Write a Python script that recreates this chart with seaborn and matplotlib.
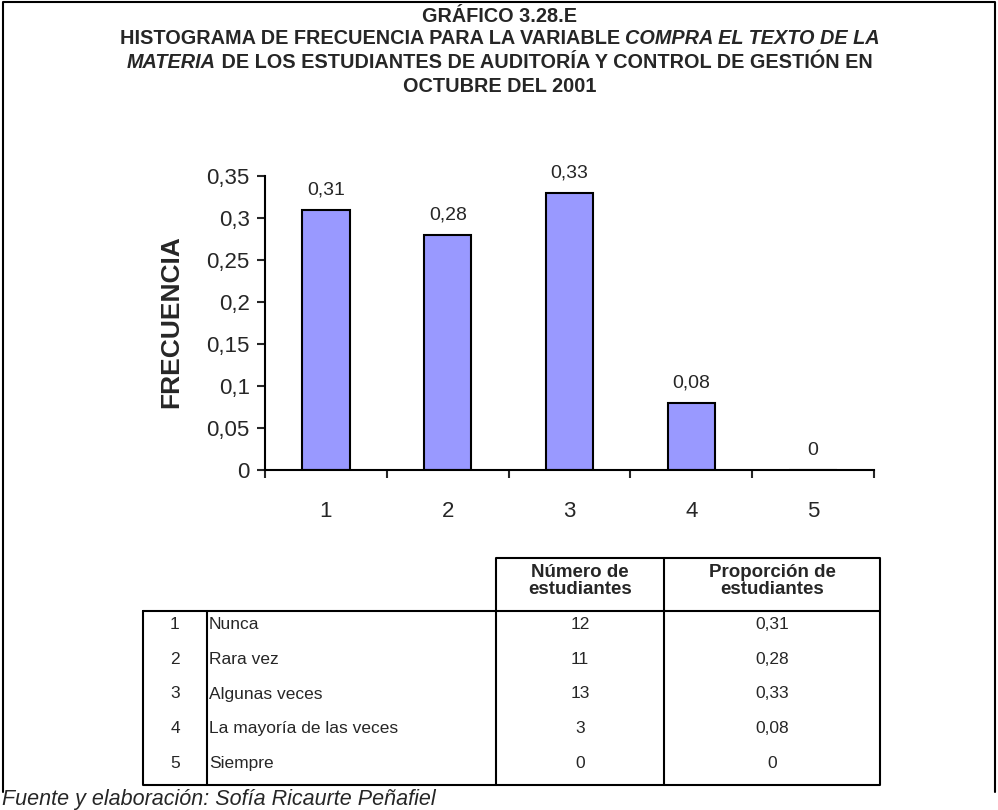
import matplotlib
matplotlib.use("Agg")
import matplotlib.pyplot as plt
import seaborn as sns
import pandas as pd

categorias = ["1", "2", "3", "4", "5"]
respuestas = ["Nunca", "Rara vez", "Algunas veces", "La mayoría de las veces", "Siempre"]
num_estudiantes = [12, 11, 13, 3, 0]
proporcion = [0.31, 0.28, 0.33, 0.08, 0.0]
proporcion_txt = ["0,31", "0,28", "0,33", "0,08", "0"]
yticks = [0, 0.05, 0.1, 0.15, 0.2, 0.25, 0.3, 0.35]
ytick_txt = ["0", "0,05", "0,1", "0,15", "0,2", "0,25", "0,3", "0,35"]

titulo_1 = "GRÁFICO 3.28.E"
titulo_2 = [("HISTOGRAMA DE FRECUENCIA PARA LA VARIABLE ", "normal"), ("COMPRA EL TEXTO DE LA", "italic")]
titulo_3 = [("MATERIA", "italic"), (" DE LOS ESTUDIANTES DE AUDITORÍA Y CONTROL DE GESTIÓN EN", "normal")]
titulo_4 = "OCTUBRE DEL 2001"
fuente = "Fuente y elaboración: Sofía Ricaurte Peñafiel"

sns.set_style("white")
plt.rcParams["font.family"] = ["Liberation Sans", "DejaVu Sans"]

df = pd.DataFrame({"cat": categorias, "prop": proporcion})

fig = plt.figure(figsize=(9.98, 8.10), dpi=100)

# overlay in pixel coords for frame, title and table
ov = fig.add_axes([0, 0, 1, 1])
ov.set_xlim(0, 998)
ov.set_ylim(810, 0)
ov.axis("off")

ax = fig.add_axes([265 / 998, 1 - 470 / 810, 609 / 998, 294 / 810])
sns.barplot(data=df, x="cat", y="prop", color="#9999FF", saturation=1,
            edgecolor="black", linewidth=1.5, width=0.39, ax=ax)
ax.set_xlim(-0.5, 4.5)
ax.set_ylim(0, 0.35)
ax.set_xlabel("")
ax.set_ylabel("")
for s in ["top", "right"]:
    ax.spines[s].set_visible(False)
for s in ["left", "bottom"]:
    ax.spines[s].set_color("black")
    ax.spines[s].set_linewidth(1.5)

ax.set_yticks(yticks)
ax.set_yticklabels(ytick_txt, fontsize=16)
ax.tick_params(axis="y", direction="out", length=6, width=1.5, pad=5, left=True)
ax.set_xticks([i - 0.5 for i in range(6)])
ax.set_xticklabels([""] * 6)
ax.tick_params(axis="x", which="major", direction="out", length=6, width=1.5, bottom=True)
ax.set_xticks(range(5), minor=True)
ax.set_xticklabels(categorias, minor=True, fontsize=16)
ax.tick_params(axis="x", which="minor", length=0, pad=22)

ax.bar_label(ax.containers[0], labels=proporcion_txt, padding=8, fontsize=14)

ov.text(171, 322, "FRECUENCIA", rotation=90, fontsize=19, fontweight="heavy",
        ha="center", va="center")

# frame
ov.plot([3, 3, 995, 995], [792, 2, 2, 792], color="black", lw=1.5, clip_on=False)

# title
fig.canvas.draw()
r = fig.canvas.get_renderer()


def linea(partes, y, size=14.3):
    objs = []
    for txt, st in partes:
        t = ov.text(0, y, txt, fontsize=size, fontweight="bold", style=st,
                    ha="left", va="center")
        objs.append(t)
    ws = [t.get_window_extent(renderer=r).width for t in objs]
    x = 500 - sum(ws) / 2
    for t, w in zip(objs, ws):
        t.set_x(x)
        x += w


linea([(titulo_1, "normal")], 16)
linea(titulo_2, 38)
linea(titulo_3, 62)
linea([(titulo_4, "normal")], 86)

# table
xs = [143, 207, 496, 664, 880]
top_h, top_b, bot = 558, 611, 785
lw = 1.5
ov.plot([xs[2], xs[2], xs[4], xs[4]], [top_b, top_h, top_h, top_b], color="black", lw=lw)
ov.plot([xs[3], xs[3]], [top_h, top_b], color="black", lw=lw)
ov.plot([xs[0], xs[4], xs[4], xs[0], xs[0]], [top_b, top_b, bot, bot, top_b], color="black", lw=lw)
for x in xs[1:4]:
    ov.plot([x, x], [top_b, bot], color="black", lw=lw)

ov.text((xs[2] + xs[3]) / 2, 581, "Número de\nestudiantes", fontsize=13.5, fontweight="bold",
        ha="center", va="center", linespacing=1.0)
ov.text((xs[3] + xs[4]) / 2, 581, "Proporción de\nestudiantes", fontsize=13.5, fontweight="bold",
        ha="center", va="center", linespacing=1.0)

fila_h = (bot - top_b) / 5
for i in range(5):
    y = top_b + fila_h * (i + 0.5) - 4
    ov.text((xs[0] + xs[1]) / 2, y, categorias[i], fontsize=12.5, ha="center", va="center")
    ov.text(xs[1] + 2, y, respuestas[i], fontsize=12.5, ha="left", va="center")
    ov.text((xs[2] + xs[3]) / 2, y, str(num_estudiantes[i]), fontsize=12.5, ha="center", va="center")
    ov.text((xs[3] + xs[4]) / 2, y, proporcion_txt[i], fontsize=12.5, ha="center", va="center")

ov.text(2, 799, fuente, fontsize=15.5, style="italic", ha="left", va="center")

fig.savefig("out.png", dpi=100)
